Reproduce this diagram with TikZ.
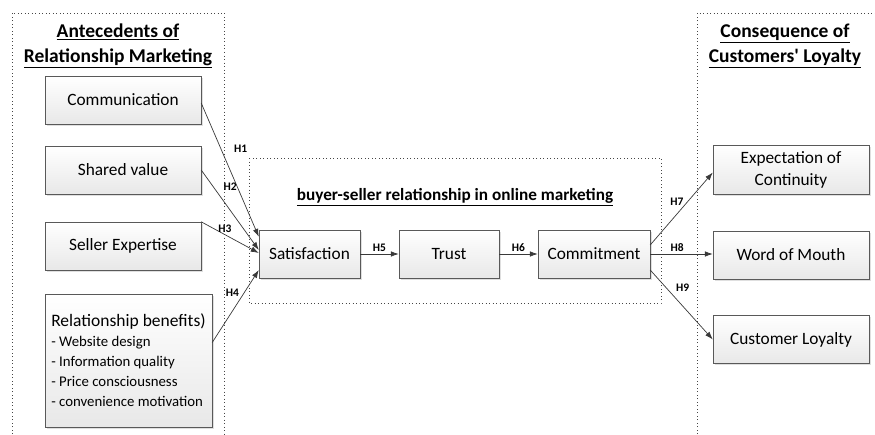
\documentclass[tikz,border=0pt]{standalone}
\usepackage{fontspec}
\setmainfont{Carlito}
\usetikzlibrary{arrows.meta,shadows}

\begin{document}
\begin{tikzpicture}[x=1pt,y=-1pt,
    >={Latex[length=8pt,width=5.5pt]},
    box/.style={draw=gray!70!black,top color=white,bottom color=gray!18,
        drop shadow={opacity=.25,shadow xshift=1.5pt,shadow yshift=-1.5pt},
        minimum height=48pt,inner sep=2pt,font=\fontsize{17.3}{19}\selectfont},
    group/.style={draw=gray!55!black,line width=1pt,dash pattern=on 0.9pt off 2.6pt},
    title/.style={font=\fontsize{19.5}{25}\selectfont\bfseries,align=center},
    hyp/.style={font=\fontsize{11.5}{12}\selectfont\bfseries,inner sep=1pt},
    link/.style={->,draw=gray!45!black,line width=.7pt}]
    \useasboundingbox (0,0) rectangle (875,434);

    % dotted groups
    \draw [group] (12,434) -- (12,13) -- (224,13) -- (224,434);
    \draw [group] (249,158) rectangle (661,303);
    \draw [group] (697,434) -- (697,13) -- (875,13);

    \node [title] (antTitle) at (118,46) {\underline{Antecedents of}\\\underline{Relationship Marketing}};
    \node [title] (conTitle) at (785,46) {\underline{Consequence of}\\\underline{Customers\textquotesingle\ Loyalty}};
    \node [font=\fontsize{17.2}{19}\selectfont\bfseries] (midTitle) at (455,197)
        {\underline{buyer-seller relationship in online marketing}};

    % antecedents
    \node [box,minimum width=156pt] (comm)   at (123,100) {Communication};
    \node [box,minimum width=156pt] (shared) at (123,170) {Shared value};
    \node [box,minimum width=156pt] (expert) at (123,246) {Seller Expertise};
    \node [box,minimum width=167pt,minimum height=133pt,align=left,
           font=\fontsize{14.8}{20}\selectfont] (benefit) at (128.5,360.5)
        {{\fontsize{17.5}{20}\selectfont Relationship benefits)}\\
         - Website design\\ - Information quality\\ - Price consciousness\\ - convenience motivation};

    % relationship chain
    \node [box,minimum width=101pt] (satis)  at (309.5,254) {Satisfaction};
    \node [box,minimum width=100pt] (trust)  at (449,254)   {Trust};
    \node [box,minimum width=112pt] (commit) at (594,254)   {Commitment};

    % consequences
    \node [box,minimum width=156pt,minimum height=49pt,align=center,
           font=\fontsize{17.3}{22}\selectfont] (expect) at (791,169.5) {Expectation of\\Continuity};
    \node [box,minimum width=156pt] (mouth) at (791,255)   {Word of Mouth};
    \node [box,minimum width=156pt] (loyal) at (791,339.5) {Customer Loyalty};

    \draw [link] ([yshift=-3pt]comm.east) -- ([yshift=-7pt]satis.north west)
        node [hyp,pos=.34,right=12pt] {H1};
    \draw [link] (shared.east) -- ([yshift=4pt]satis.west)
        node [hyp,pos=.21,right=9pt] {H2};
    \draw [link] (expert.north east) -- ([yshift=1pt]satis.west)
        node [hyp,pos=.41,above=1pt] {H3};
    \draw [link] ([yshift=18pt]benefit.east) -- ([yshift=-16pt]satis.west)
        node [hyp,pos=.69,left=4pt] {H4};
    \draw [link] (satis) -- (trust) node [hyp,midway,above=1pt] {H5};
    \draw [link] (trust) -- (commit) node [hyp,midway,above=1pt] {H6};
    \draw [link] ([yshift=9pt]commit.east) -- ([yshift=-3pt]expect.west)
        node [hyp,pos=.6,left=3pt] {H7};
    \draw [link] (commit.east) -- (commit.east -| mouth.west)
        node [hyp,pos=.43,above=1pt] {H8};
    \draw [link] ([yshift=-16pt]commit.east) -- (loyal.west)
        node [hyp,pos=.25,right=9pt] {H9};
\end{tikzpicture}
\end{document}
